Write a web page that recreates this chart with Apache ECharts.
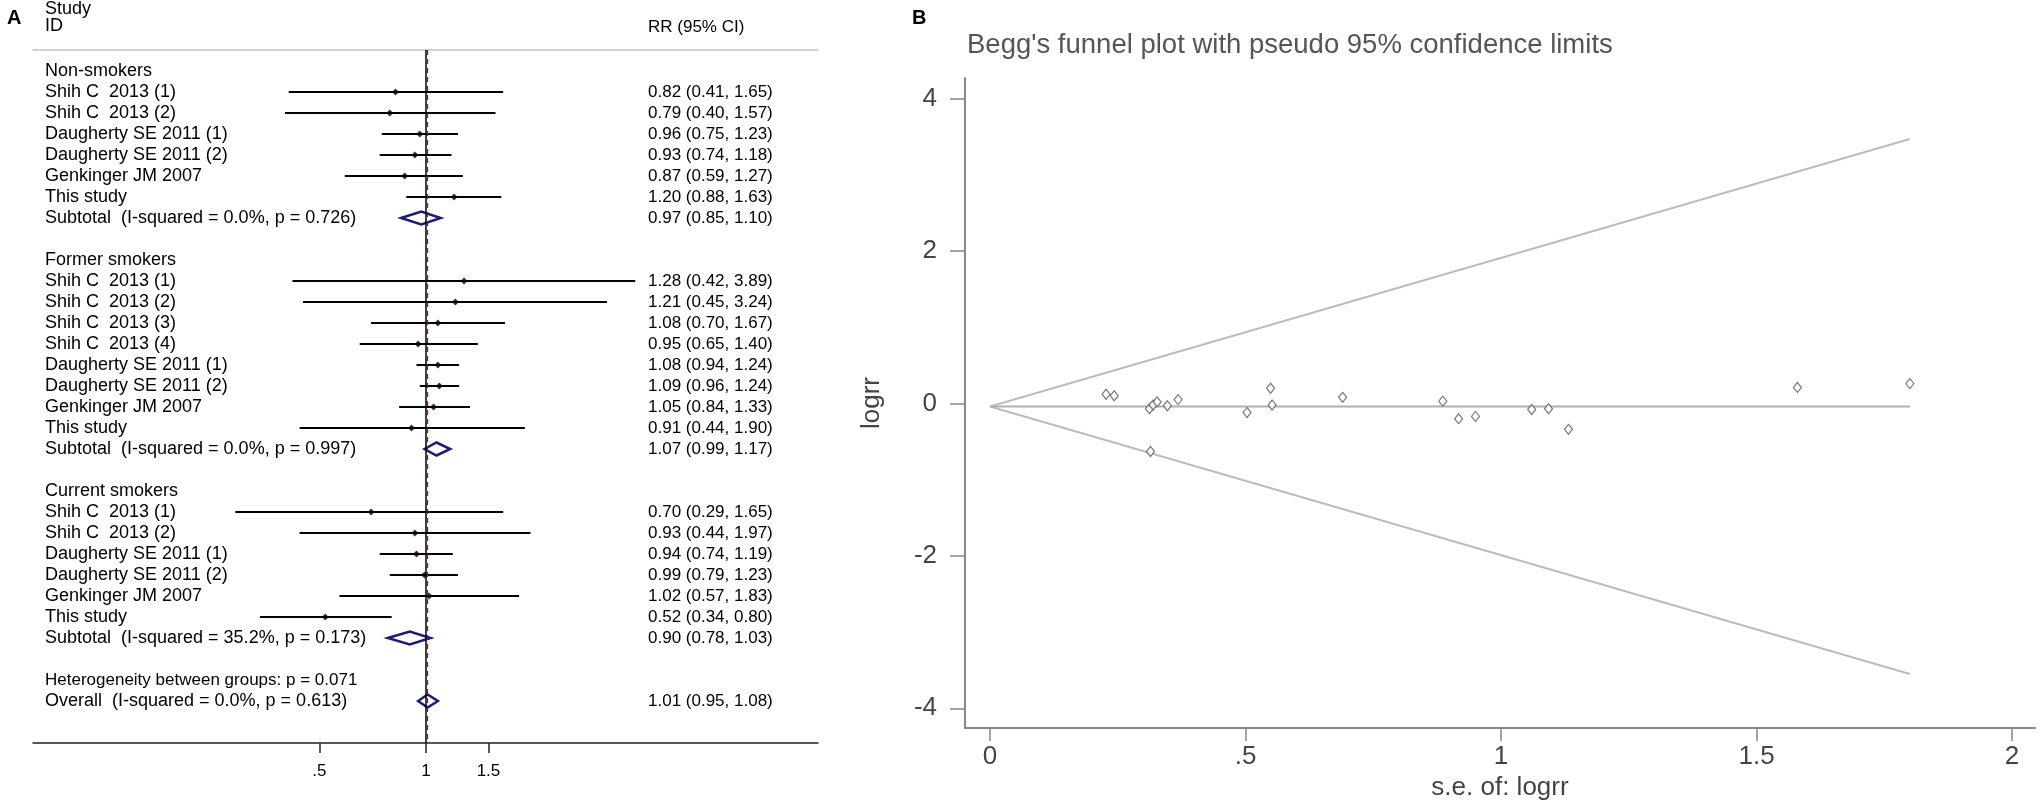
<!DOCTYPE html>
<html>
<head>
<meta charset="utf-8">
<script src="https://cdn.jsdelivr.net/npm/echarts@6/dist/echarts.min.js"></script>
<style>
  html, body { margin: 0; padding: 0; background: #fff; }
  #chart { width: 2041px; height: 806px; }
</style>
</head>
<body>
<div id="chart"></div>
<script>
// forest plot data (panel A)
var groups = ['Non-smokers', 'Former smokers', 'Current smokers'];
var studyLabels = [
    ['Shih C  2013 (1)', 'Shih C  2013 (2)', 'Daugherty SE 2011 (1)', 'Daugherty SE 2011 (2)', 'Genkinger JM 2007', 'This study'],
    ['Shih C  2013 (1)', 'Shih C  2013 (2)', 'Shih C  2013 (3)', 'Shih C  2013 (4)', 'Daugherty SE 2011 (1)', 'Daugherty SE 2011 (2)', 'Genkinger JM 2007', 'This study'],
    ['Shih C  2013 (1)', 'Shih C  2013 (2)', 'Daugherty SE 2011 (1)', 'Daugherty SE 2011 (2)', 'Genkinger JM 2007', 'This study']
];
var studyEst = [
    [0.82, 0.79, 0.96, 0.93, 0.87, 1.20],
    [1.28, 1.21, 1.08, 0.95, 1.08, 1.09, 1.05, 0.91],
    [0.70, 0.93, 0.94, 0.99, 1.02, 0.52]
];
var studyLo = [
    [0.41, 0.40, 0.75, 0.74, 0.59, 0.88],
    [0.42, 0.45, 0.70, 0.65, 0.94, 0.96, 0.84, 0.44],
    [0.29, 0.44, 0.74, 0.79, 0.57, 0.34]
];
var studyHi = [
    [1.65, 1.57, 1.23, 1.18, 1.27, 1.63],
    [3.89, 3.24, 1.67, 1.40, 1.24, 1.24, 1.33, 1.90],
    [1.65, 1.97, 1.19, 1.23, 1.83, 0.80]
];
var subtotalLabels = [
    'Subtotal  (I-squared = 0.0%, p = 0.726)',
    'Subtotal  (I-squared = 0.0%, p = 0.997)',
    'Subtotal  (I-squared = 35.2%, p = 0.173)'
];
var subtotalEst = [0.97, 1.07, 0.90];
var subtotalLo = [0.85, 0.99, 0.78];
var subtotalHi = [1.10, 1.17, 1.03];
var heterogeneityText = 'Heterogeneity between groups: p = 0.071';
var overallLabel = 'Overall  (I-squared = 0.0%, p = 0.613)';
var overallEst = 1.01, overallLo = 0.95, overallHi = 1.08;
var forestTicks = [0.5, 1, 1.5];
var forestTickLabels = ['.5', '1', '1.5'];

// funnel plot data (panel B)
var funnelSe = [0.227, 0.243, 0.312, 0.319, 0.327, 0.347, 0.368, 0.314, 0.503, 0.549,
                0.552, 0.69, 0.886, 0.917, 0.95, 1.06, 1.093, 1.132, 1.58, 1.80];
var funnelLogrr = [0.12, 0.10, -0.07, -0.02, 0.02, -0.03, 0.05, -0.63, -0.12, 0.20,
                   -0.02, 0.08, 0.03, -0.20, -0.17, -0.08, -0.07, -0.34, 0.21, 0.26];
var limitSe = [0, 1.8];
var limitUpper = [-0.04, 3.47];
var limitLower = [-0.04, -3.55];
var pooledLine = [-0.04, -0.04];
var funnelXTicks = [0, 0.5, 1, 1.5, 2];
var funnelXLabels = ['0', '.5', '1', '1.5', '2'];
var funnelYTicks = [-4, -2, 0, 2, 4];

var FONT = '"Liberation Sans", Arial, sans-serif';

function fmt(e, l, h) {
    return e.toFixed(2) + ' (' + l.toFixed(2) + ', ' + h.toFixed(2) + ')';
}

// lay the rows out
var rowLabels = [], rrLabels = [], ciData = [], pointData = [], diamondData = [];
var row = 0;
groups.forEach(function (g, gi) {
    rowLabels[row] = g;
    row++;
    studyLabels[gi].forEach(function (name, i) {
        rowLabels[row] = name;
        rrLabels[row] = fmt(studyEst[gi][i], studyLo[gi][i], studyHi[gi][i]);
        ciData.push([Math.log(studyLo[gi][i]), Math.log(studyHi[gi][i]), row]);
        pointData.push([Math.log(studyEst[gi][i]), row]);
        row++;
    });
    rowLabels[row] = subtotalLabels[gi];
    rrLabels[row] = fmt(subtotalEst[gi], subtotalLo[gi], subtotalHi[gi]);
    diamondData.push([Math.log(subtotalLo[gi]), Math.log(subtotalEst[gi]), Math.log(subtotalHi[gi]), row]);
    row += 2;
});
rowLabels[row] = '{het|' + heterogeneityText + '}';
row++;
rowLabels[row] = overallLabel;
rrLabels[row] = fmt(overallEst, overallLo, overallHi);
diamondData.push([Math.log(overallLo), Math.log(overallEst), Math.log(overallHi), row]);

var lnTicks = forestTicks.map(function (v) { return Math.log(v); });
var fxMin = -2.552, fxMax = 2.545;

var myChart = echarts.init(document.getElementById('chart'));

option = {
    animation: false,
    backgroundColor: '#fff',
    textStyle: { fontFamily: FONT },
    title: [
        { text: 'A', left: 7, top: 8, padding: 0, textStyle: { fontFamily: FONT, fontSize: 20, fontWeight: 'bold', color: '#000' } },
        { text: 'Study\nID', left: 45, top: 1, padding: 0, textStyle: { fontFamily: FONT, fontSize: 18, fontWeight: 'normal', color: '#000', lineHeight: 17 } },
        { text: 'RR (95% CI)', left: 648, top: 19, padding: 0, textStyle: { fontFamily: FONT, fontSize: 17, fontWeight: 'normal', color: '#000' } },
        { text: 'B', left: 912, top: 8, padding: 0, textStyle: { fontFamily: FONT, fontSize: 20, fontWeight: 'bold', color: '#000' } },
        { text: "Begg's funnel plot with pseudo 95% confidence limits", left: 967, top: 31, padding: 0,
          textStyle: { fontFamily: FONT, fontSize: 27.5, fontWeight: 'normal', color: '#555' } }
    ],
    grid: [
        { left: 33, top: 50, width: 785, height: 693 },
        { left: 965, top: 78, width: 1070, height: 657 }
    ],
    xAxis: [
        {
            gridIndex: 0, type: 'value', position: 'bottom', min: fxMin, max: fxMax,
            splitLine: { show: false },
            axisLine: { onZero: false, lineStyle: { color: '#222', width: 1.5 } },
            axisTick: { customValues: lnTicks, length: 10, lineStyle: { color: '#222', width: 1.5 } },
            axisLabel: {
                customValues: lnTicks, margin: 20, fontSize: 17, color: '#000', fontFamily: FONT,
                formatter: function (v) {
                    for (var i = 0; i < lnTicks.length; i++) {
                        if (Math.abs(lnTicks[i] - v) < 1e-6) return forestTickLabels[i];
                    }
                    return '';
                }
            }
        },
        {
            // header rule
            gridIndex: 0, type: 'value', position: 'top', min: fxMin, max: fxMax,
            splitLine: { show: false }, axisTick: { show: false }, axisLabel: { show: false },
            axisLine: { onZero: false, lineStyle: { color: '#c4c4c4', width: 1.5 } }
        },
        {
            gridIndex: 1, type: 'value', min: -0.049, max: 2.045,
            splitLine: { show: false },
            axisLine: { onZero: false, lineStyle: { color: '#888', width: 2 } },
            axisTick: { customValues: funnelXTicks, length: 13, lineStyle: { color: '#888', width: 1.5 } },
            axisLabel: {
                customValues: funnelXTicks, margin: 16, fontSize: 26, color: '#444', fontFamily: FONT,
                formatter: function (v) {
                    var i = funnelXTicks.indexOf(v);
                    return i >= 0 ? funnelXLabels[i] : '';
                }
            },
            name: 's.e. of: logrr', nameLocation: 'middle', nameGap: 46,
            nameTextStyle: { fontSize: 26, color: '#444', fontFamily: FONT }
        }
    ],
    yAxis: [
        {
            gridIndex: 0, type: 'value', position: 'left', inverse: true, min: -1, max: 32, interval: 1,
            splitLine: { show: false }, axisLine: { show: false, onZero: false }, axisTick: { show: false },
            axisLabel: {
                inside: true, margin: 12, fontSize: 18, color: '#000', fontFamily: FONT,
                formatter: function (v) { return rowLabels[Math.round(v)] || ''; },
                rich: { het: { fontSize: 17, color: '#000', fontFamily: FONT } }
            }
        },
        {
            gridIndex: 0, type: 'value', position: 'right', inverse: true, min: -1, max: 32, interval: 1,
            splitLine: { show: false }, axisLine: { show: false, onZero: false }, axisTick: { show: false },
            axisLabel: {
                inside: true, margin: 170, align: 'left', fontSize: 17, color: '#000', fontFamily: FONT,
                formatter: function (v) { return rrLabels[Math.round(v)] || ''; }
            }
        },
        {
            gridIndex: 1, type: 'value', min: -4.26, max: 4.27,
            splitLine: { show: false },
            axisLine: { onZero: false, lineStyle: { color: '#888', width: 2 } },
            axisTick: { customValues: funnelYTicks, length: 15, lineStyle: { color: '#888', width: 1.5 } },
            axisLabel: { customValues: funnelYTicks, margin: 28, fontSize: 26, color: '#444', fontFamily: FONT },
            name: 'logrr', nameLocation: 'middle', nameRotate: 90, nameGap: 80,
            nameTextStyle: { fontSize: 26, color: '#444', fontFamily: FONT }
        }
    ],
    series: [
        {
            name: 'ci', type: 'custom', xAxisIndex: 0, yAxisIndex: 0,
            data: ciData,
            encode: { x: [0, 1], y: 2 },
            renderItem: function (params, api) {
                var a = api.coord([api.value(0), api.value(2)]);
                var b = api.coord([api.value(1), api.value(2)]);
                return {
                    type: 'line',
                    shape: { x1: a[0], y1: a[1], x2: b[0], y2: b[1] },
                    style: { stroke: '#000', lineWidth: 2 }
                };
            }
        },
        {
            name: 'estimate', type: 'scatter', xAxisIndex: 0, yAxisIndex: 0,
            data: pointData, symbol: 'diamond', symbolSize: 7,
            itemStyle: { color: '#000' },
            z: 3,
            markLine: {
                silent: true, symbol: 'none', label: { show: false },
                data: [
                    { xAxis: 0, lineStyle: { color: '#000', type: 'solid', width: 1.5 } },
                    { xAxis: Math.log(overallEst), lineStyle: { color: '#8b1a1a', type: [5, 4], width: 1.3 } }
                ]
            }
        },
        {
            name: 'pooled', type: 'custom', xAxisIndex: 0, yAxisIndex: 0,
            data: diamondData,
            encode: { x: [0, 2], y: 3 },
            z: 4,
            renderItem: function (params, api) {
                var l = api.coord([api.value(0), api.value(3)]);
                var c = api.coord([api.value(1), api.value(3)]);
                var r = api.coord([api.value(2), api.value(3)]);
                var h = 6.5;
                return {
                    type: 'polygon',
                    shape: { points: [[l[0], l[1]], [c[0], c[1] - h], [r[0], r[1]], [c[0], c[1] + h]] },
                    style: { fill: 'rgba(0,0,0,0)', stroke: '#1b1b78', lineWidth: 2.5 }
                };
            }
        },
        {
            name: 'upper', type: 'line', xAxisIndex: 2, yAxisIndex: 2, symbol: 'none',
            data: limitSe.map(function (s, i) { return [s, limitUpper[i]]; }),
            lineStyle: { color: '#bcbcbc', width: 2 }
        },
        {
            name: 'lower', type: 'line', xAxisIndex: 2, yAxisIndex: 2, symbol: 'none',
            data: limitSe.map(function (s, i) { return [s, limitLower[i]]; }),
            lineStyle: { color: '#bcbcbc', width: 2 }
        },
        {
            name: 'pooled line', type: 'line', xAxisIndex: 2, yAxisIndex: 2, symbol: 'none',
            data: limitSe.map(function (s, i) { return [s, pooledLine[i]]; }),
            lineStyle: { color: '#b0b0b0', width: 2 }
        },
        {
            name: 'studies', type: 'scatter', xAxisIndex: 2, yAxisIndex: 2,
            data: funnelSe.map(function (s, i) { return [s, funnelLogrr[i]]; }),
            symbol: 'diamond', symbolSize: [8, 10],
            itemStyle: { color: '#fff', borderColor: '#555', borderWidth: 1.2 },
            z: 5
        }
    ]
};

myChart.setOption(option);
</script>
</body>
</html>
